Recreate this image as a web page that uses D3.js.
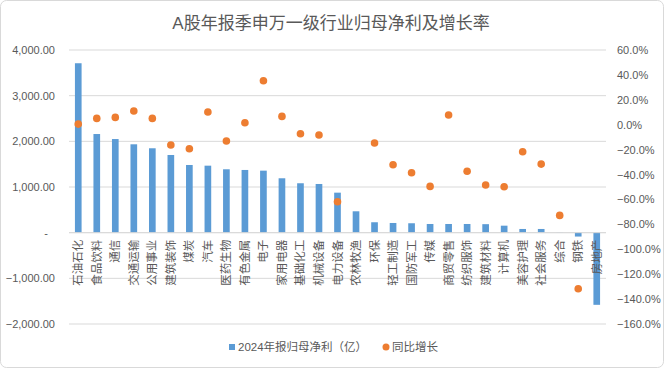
<!DOCTYPE html>
<html>
<head>
<meta charset="utf-8">
<script src="https://d3js.org/d3.v7.min.js"></script>
<style>
  body { margin: 0; background: #fff; }
  text { font-family: "Liberation Sans", "Noto Sans CJK SC", sans-serif; }
</style>
</head>
<body>
<div id="chart"></div>
<script>

// chart size
var svg_width = 664
var svg_height = 368

// data
var industries = ["石油石化", "食品饮料", "通信", "交通运输", "公用事业", "建筑装饰", "煤炭", "汽车", "医药生物", "有色金属",
  "电子", "家用电器", "基础化工", "机械设备", "电力设备", "农林牧渔", "环保", "轻工制造", "国防军工", "传媒",
  "商贸零售", "纺织服饰", "建筑材料", "计算机", "美容护理", "社会服务", "综合", "钢铁", "房地产"]

var profit = [3710, 2160, 2050, 1935, 1848, 1701, 1482, 1467, 1388, 1373,
  1358, 1191, 1082, 1066, 876, 468, 228, 212, 206, 190,
  190, 190, 186, 153, 81, 81, 4, -85, -1580]

// null = no point shown
var growth = [0.5, 5.1, 5.9, 11.0, 5.1, -16.3, -19.3, 10.2, -13.1, 1.6,
  35.3, 6.7, -7.2, -8.3, -61.8, null, -14.7, -32.1, -38.6, -49.5,
  7.8, -37.4, -48.4, -49.8, -21.7, -31.6, -72.8, -131.7, null]

var left_ticks = [-2000, -1000, 0, 1000, 2000, 3000, 4000]
var right_ticks = [-160, -140, -120, -100, -80, -60, -40, -20, 0, 20, 40, 60]

var title_text = "A股年报季申万一级行业归母净利及增长率"
var legend_bar = "2024年报归母净利（亿）"
var legend_dot = "同比增长"

var bar_color = "#5B9BD5"
var dot_color = "#ED7D31"
var label_color = "#595959"

var svg = d3.select("#chart").append("svg")
  .attr("width", svg_width)
  .attr("height", svg_height)

// outer frame
svg.append("rect")
  .attr("x", 0.5)
  .attr("y", 0.5)
  .attr("width", svg_width - 1)
  .attr("height", svg_height - 1)
  .attr("rx", 6)
  .style("fill", "white")
  .style("stroke", "#d9d9d9")

var plot_left = 69
var plot_right = 606
var plot_top = 50
var plot_bottom = 324

var x = d3.scaleBand()
  .domain(industries)
  .range([plot_left, plot_right])
  .paddingInner(0.64)
  .paddingOuter(0.32)

var y_left = d3.scaleLinear()
  .domain([-2000, 4000])
  .range([plot_bottom, plot_top])

var y_right = d3.scaleLinear()
  .domain([-160, 60])
  .range([plot_bottom, plot_top])

// grid lines
svg.append("g")
  .selectAll("line")
  .data(left_ticks)
  .join("line")
  .attr("x1", plot_left)
  .attr("x2", plot_right)
  .attr("y1", function(d) { return y_left(d) })
  .attr("y2", function(d) { return y_left(d) })
  .style("stroke", "#d9d9d9")
  .style("stroke-width", 1)

// left axis
var left_axis = svg.append("g")
  .attr("transform", "translate(" + (plot_left - 11) + ",0)")
  .call(d3.axisLeft(y_left).tickValues(left_ticks).tickSize(0)
    .tickFormat(function(d) { return d == 0 ? "-" : d3.format(",.2f")(d) }))
left_axis.select(".domain").remove()
left_axis.selectAll("text")
  .style("font-size", "11px")
  .style("fill", label_color)
left_axis.selectAll(".tick")
  .filter(function(d) { return d == 0 })
  .select("text")
  .attr("dx", -7)

// right axis
var right_axis = svg.append("g")
  .attr("transform", "translate(" + (plot_right + 11) + ",0)")
  .call(d3.axisRight(y_right).tickValues(right_ticks).tickSize(0)
    .tickFormat(function(d) { return d3.format(".1f")(d) + "%" }))
right_axis.select(".domain").remove()
right_axis.selectAll("text")
  .attr("x", 0)
  .style("font-size", "11px")
  .style("fill", label_color)

// bars
svg.append("g")
  .selectAll("rect")
  .data(industries)
  .join("rect")
  .attr("x", function(d) { return x(d) })
  .attr("width", x.bandwidth())
  .attr("y", function(d, i) { return y_left(Math.max(0, profit[i])) })
  .attr("height", function(d, i) { return Math.abs(y_left(profit[i]) - y_left(0)) })
  .style("fill", bar_color)

// zero line on top of bars
svg.append("line")
  .attr("x1", plot_left)
  .attr("x2", plot_right)
  .attr("y1", y_left(0))
  .attr("y2", y_left(0))
  .style("stroke", "#d9d9d9")

// category labels, rotated -90, ending just under the zero line
svg.append("g")
  .selectAll("text")
  .data(industries)
  .join("text")
  .text(function(d) { return d })
  .attr("transform", function(d) {
    return "translate(" + (x(d) + x.bandwidth() / 2) + "," + (y_left(0) + 7) + ") rotate(-90)"
  })
  .attr("dy", "0.35em")
  .attr("text-anchor", "end")
  .style("font-size", "11.5px")
  .style("fill", label_color)

// growth points
svg.append("g")
  .selectAll("circle")
  .data(industries.filter(function(d, i) { return growth[i] != null }))
  .join("circle")
  .attr("cx", function(d) { return x(d) + x.bandwidth() / 2 })
  .attr("cy", function(d) { return y_right(growth[industries.indexOf(d)]) })
  .attr("r", 3.8)
  .style("fill", dot_color)

// title
svg.append("text")
  .text(title_text)
  .attr("x", 331)
  .attr("y", 29)
  .attr("text-anchor", "middle")
  .style("font-size", "17px")
  .style("fill", label_color)

// legend
var legend = svg.append("g")
legend.append("rect")
  .attr("x", 229)
  .attr("y", 344)
  .attr("width", 6)
  .attr("height", 6)
  .style("fill", bar_color)
legend.append("text")
  .text(legend_bar)
  .attr("x", 238)
  .attr("y", 351)
  .style("font-size", "11.5px")
  .style("fill", label_color)
legend.append("circle")
  .attr("cx", 386)
  .attr("cy", 347)
  .attr("r", 3.5)
  .style("fill", dot_color)
legend.append("text")
  .text(legend_dot)
  .attr("x", 392)
  .attr("y", 351)
  .style("font-size", "11.5px")
  .style("fill", label_color)

</script>
</body>
</html>
